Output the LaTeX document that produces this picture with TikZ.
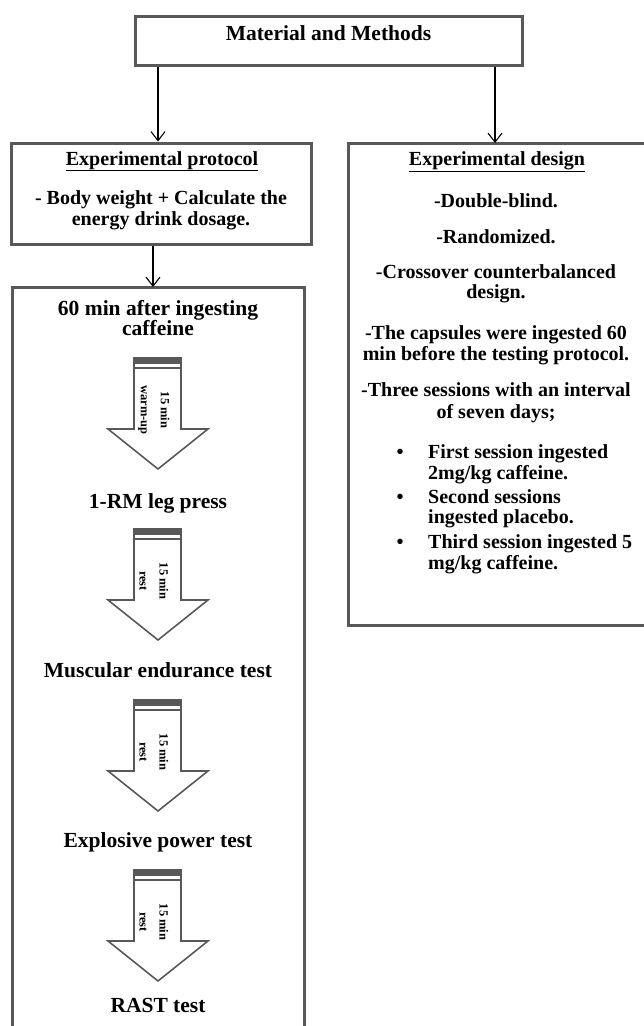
\documentclass[tikz,border=0pt]{standalone}
\usepackage{fontspec}
\setmainfont{Liberation Serif}
\usepackage{xcolor}
\usetikzlibrary{arrows.meta, positioning}

\definecolor{framegray}{RGB}{88,88,88}

\tikzset{
    frame/.style={draw=framegray, line width=3pt, inner sep=0pt},
    conn/.style={-{Straight Barb[length=9pt, width=14pt]}, line width=1.1pt},
    lbl/.style={anchor=base, inner sep=0pt, font=\fontsize{21.5}{21}\selectfont\bfseries},
    txt/.style={lbl, font=\fontsize{20}{20}\selectfont\bfseries},
    item/.style={txt, anchor=base west},
    gaptext/.style={rotate=-90, align=center, inner sep=0pt, font=\fontsize{12.5}{20}\selectfont\bfseries}
}

% block arrow between two tests: name, top y, label
\newcommand{\gaparrow}[3]{%
    \draw[framegray, line width=1.6pt, fill=white] (134,#2) -- (181,#2) -- (181,{#2+71}) -- (208,{#2+71})
        -- (158,{#2+111}) -- (108,{#2+71}) -- (134,{#2+71}) -- cycle;
    \fill[framegray] (134,#2) rectangle (181,{#2+6});
    \draw[framegray, line width=1.4pt] (134,{#2+10}) -- (181,{#2+10});
    \node[gaptext] (#1) at (154,{#2+52}) {#3};
}

\begin{document}
\begin{tikzpicture}[x=1pt, y=-1pt]
    \useasboundingbox (0,0) rectangle (643,1026);

    % boxes
    \node[frame, minimum width=387pt, minimum height=49pt] (mm) at (328.5,40.5) {};
    \node[frame, minimum width=300pt, minimum height=101pt] (proto) at (161,193.5) {};
    \node[frame, minimum width=330pt, minimum height=482pt] (design) at (513,384) {};
    \node[frame, minimum width=292pt, minimum height=760pt] (steps) at (158,667) {};
    \coordinate (dtop) at (495,143);
    \coordinate (stop) at (153,287);

    \node[lbl] (mmt) at (328.5,40) {Material and Methods};

    % experimental protocol
    \node[txt] (pt) at (162,165) {\underline{Experimental protocol}};
    \node[txt] (p1) at (161,204) {- Body weight + Calculate the};
    \node[txt] (p2) at (161,225) {energy drink dosage.};

    % experimental design
    \node[txt] (dt) at (497,165) {\underline{Experimental design}};
    \node[txt] (d1) at (496,207) {-Double-blind.};
    \node[txt] (d2) at (496,243) {-Randomized.};
    \node[txt] (d3) at (496,278) {-Crossover counterbalanced};
    \node[txt] (d4) at (496,298) {design.};
    \node[txt] (d5) at (496,339) {-The capsules were ingested 60};
    \node[txt] (d6) at (496,360) {min before the testing protocol.};
    \node[txt] (d7) at (496,396) {-Three sessions with an interval};
    \node[txt] (d8) at (496,418) {of seven days;};
    \node[txt] (u1) at (400,458) {\textbullet};
    \node[txt] (u2) at (400,503) {\textbullet};
    \node[txt] (u3) at (400,548) {\textbullet};
    \node[item] (b1) at (428,458) {First session ingested};
    \node[item] (b2) at (428,479) {2mg/kg caffeine.};
    \node[item] (b3) at (428,503) {Second sessions};
    \node[item] (b4) at (428,523) {ingested placebo.};
    \node[item] (b5) at (428,548) {Third session ingested 5};
    \node[item] (b6) at (428,569) {mg/kg caffeine.};

    % testing sequence
    \node[lbl] (s0a) at (158,315) {60 min after ingesting};
    \node[lbl] (s0b) at (158,335) {caffeine};
    \gaparrow{g1}{358}{15 min\\warm-up}
    \node[lbl] (s1) at (158,508) {1-RM leg press};
    \gaparrow{g2}{529}{15 min\\rest}
    \node[lbl] (s2) at (158,677) {Muscular endurance test};
    \gaparrow{g3}{700}{15 min\\rest}
    \node[lbl] (s3) at (158,847) {Explosive power test};
    \gaparrow{g4}{870}{15 min\\rest}
    \node[lbl] (s4) at (158,1012) {RAST test};

    % connectors
    \draw[conn] (mm.south -| 158,0) -- (proto.north -| 158,0);
    \draw[conn] (mm.south -| dtop) -- (dtop);
    \draw[conn] (proto.south -| stop) -- (stop);
\end{tikzpicture}
\end{document}
